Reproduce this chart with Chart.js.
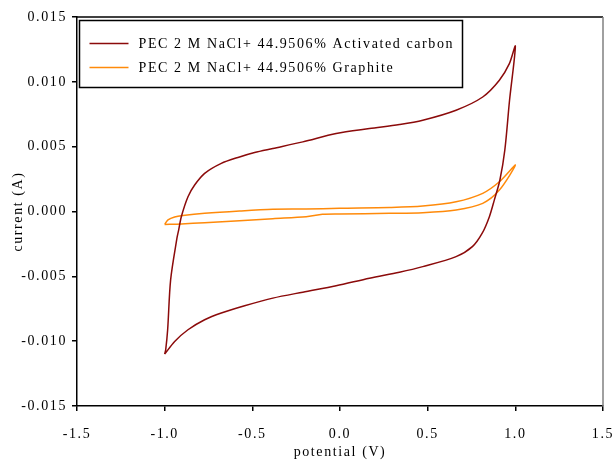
<!DOCTYPE html>
<html>
<head>
<meta charset="utf-8">
<script src="https://cdn.jsdelivr.net/npm/chart.js@4/dist/chart.umd.min.js"></script>
<style>
  html, body { margin: 0; padding: 0; background: #fff; }
  #wrap { width: 613px; height: 463px; }
</style>
</head>
<body>
<div id="wrap"><canvas id="cv"></canvas></div>
<script>
// Cyclic voltammograms: potential (V) vs current (A)
const seriesLabels = [
  'PEC 2 M NaCl+ 44.9506% Activated carbon',
  'PEC 2 M NaCl+ 44.9506% Graphite'
];
const seriesColors = ['#8b0a0a', '#ff8a0a'];

// Activated carbon loop (forward sweep then reverse sweep)
const acV = [-1.000, -0.994, -0.983, -0.966, -0.930, -0.920, -0.905, -0.867, -0.829, -0.772,
             -0.677, -0.582, -0.487, -0.383, -0.212, -0.022, 0.168, 0.339, 0.472, 0.662,
             0.814, 0.909, 0.966, 1.000,
             0.967, 0.940, 0.912, 0.880, 0.852, 0.812, 0.755, 0.662, 0.472, 0.339,
             0.168, -0.022, -0.212, -0.383, -0.544, -0.677, -0.772, -0.867, -0.943, -1.000];
const acI = [-0.0110, -0.01065, -0.00912, -0.00527, -0.00206, -0.00142, -0.00040, 0.00114, 0.00204, 0.00294,
             0.00371, 0.00417, 0.00455, 0.00486, 0.00537, 0.00602, 0.00640, 0.00671, 0.00704, 0.00781,
             0.00883, 0.01012, 0.01140, 0.01275,
             0.00858, 0.00473, 0.00243, 0.00088, -0.00040, -0.00165, -0.00271, -0.00348, -0.00425, -0.00468,
             -0.00514, -0.00573, -0.00622, -0.00668, -0.00727, -0.00783, -0.00835, -0.00912, -0.01002, -0.0110];

// Graphite loop (forward sweep then reverse sweep)
const grV = [-1.000, -0.981, -0.943, -0.896, -0.772, -0.573, -0.383, -0.193, -0.003, 0.282,
             0.472, 0.662, 0.814, 0.909, 1.000,
             0.909, 0.814, 0.662, 0.472, 0.282, -0.003, -0.100, -0.193, -0.383, -0.573,
             -0.772, -0.905, -1.000];
const grI = [-0.00100, -0.00065, -0.00042, -0.00031, -0.00014, 0.00004, 0.00017, 0.00019, 0.00025, 0.00031,
             0.00042, 0.00075, 0.00140, 0.00229, 0.00358,
             0.00165, 0.00063, 0.00012, -0.00009, -0.00014, -0.00019, -0.00022, -0.00040, -0.00055, -0.00071,
             -0.00086, -0.00096, -0.00100];

const xTicks = [-1.5, -1.0, -0.5, 0.0, 0.5, 1.0, 1.5];
const yTicks = [-0.015, -0.010, -0.005, 0.000, 0.005, 0.010, 0.015];

const pairs = (xs, ys) => xs.map((x, k) => ({ x: x, y: ys[k] }));

const FONT = '"Liberation Serif", "Times New Roman", serif';
const SPACING = '1.6px';

// white page, spaced lettering for all canvas text
const setup = {
  id: 'setup',
  beforeDraw(chart) {
    const c = chart.ctx;
    c.save();
    c.fillStyle = '#fff';
    c.fillRect(0, 0, chart.width, chart.height);
    c.restore();
    c.letterSpacing = SPACING;
  }
};

// plot frame (top and right edges) and the boxed legend
const frameAndLegend = {
  id: 'frameAndLegend',
  afterDraw(chart) {
    const c = chart.ctx;
    const a = chart.chartArea;
    c.save();
    c.lineWidth = 1.5;
    c.strokeStyle = '#000';
    c.beginPath();
    c.moveTo(a.left, a.top);
    c.lineTo(a.right, a.top);
    c.stroke();
    c.strokeStyle = '#808080';
    c.beginPath();
    c.moveTo(a.right, a.top);
    c.lineTo(a.right, a.bottom);
    c.stroke();

    // legend box
    const bx = a.left + 2.5, by = a.top + 3.5, bw = 383, bh = 67;
    c.strokeStyle = '#000';
    c.lineWidth = 1.5;
    c.strokeRect(bx, by, bw, bh);
    c.font = '14px ' + FONT;
    c.letterSpacing = SPACING;
    c.fillStyle = '#000';
    c.textBaseline = 'middle';
    c.textAlign = 'left';
    chart.data.datasets.forEach((ds, k) => {
      const yy = by + 23 + k * 24;
      c.strokeStyle = ds.borderColor;
      c.lineWidth = 1.5;
      c.beginPath();
      c.moveTo(bx + 10, yy);
      c.lineTo(bx + 49, yy);
      c.stroke();
      c.fillText(ds.label, bx + 59, yy + 1);
    });
    c.restore();
  }
};

new Chart(document.getElementById('cv'), {
  type: 'scatter',
  data: {
    datasets: [
      { label: seriesLabels[0], data: pairs(acV, acI), showLine: true, borderColor: seriesColors[0],
        borderWidth: 1.5, pointRadius: 0, tension: 0.3, fill: false },
      { label: seriesLabels[1], data: pairs(grV, grI), showLine: true, borderColor: seriesColors[1],
        borderWidth: 1.5, pointRadius: 0, tension: 0.3, fill: false }
    ]
  },
  options: {
    responsive: true,
    maintainAspectRatio: false,
    animation: false,
    layout: { padding: { top: 17, right: 10, left: 0, bottom: 0 } },
    plugins: { legend: { display: false }, tooltip: { enabled: false } },
    scales: {
      x: {
        type: 'linear', min: xTicks[0], max: xTicks[xTicks.length - 1],
        afterBuildTicks(s) { s.ticks = xTicks.map(v => ({ value: v })); },
        afterFit(s) { s.height = 57; s.paddingLeft = 0; s.paddingRight = 0; },
        ticks: { color: '#000', font: { family: FONT, size: 14 }, padding: 15,
                 maxRotation: 0, autoSkip: false, callback: v => Number(v).toFixed(1) },
        grid: { display: true, drawOnChartArea: false, drawTicks: true, tickLength: 5,
                color: '#000', lineWidth: 1.5 },
        border: { display: true, color: '#000', width: 1.5 },
        title: { display: true, text: 'potential (V)', color: '#000',
                 font: { family: FONT, size: 14 }, padding: { top: 0, bottom: 2 } }
      },
      y: {
        type: 'linear', min: yTicks[0], max: yTicks[yTicks.length - 1],
        afterBuildTicks(s) { s.ticks = yTicks.map(v => ({ value: v })); },
        afterFit(s) { s.width = 77; s.paddingTop = 0; s.paddingBottom = 0; },
        ticks: { color: '#000', font: { family: FONT, size: 14 }, padding: 5,
                 autoSkip: false, callback: v => Number(v).toFixed(3) },
        grid: { display: true, drawOnChartArea: false, drawTicks: true, tickLength: 5,
                color: '#000', lineWidth: 1.5 },
        border: { display: true, color: '#000', width: 1.5 },
        title: { display: true, text: 'current (A)', color: '#000',
                 font: { family: FONT, size: 14 }, padding: { top: 10, bottom: 0 } }
      }
    }
  },
  plugins: [setup, frameAndLegend]
});
</script>
</body>
</html>
